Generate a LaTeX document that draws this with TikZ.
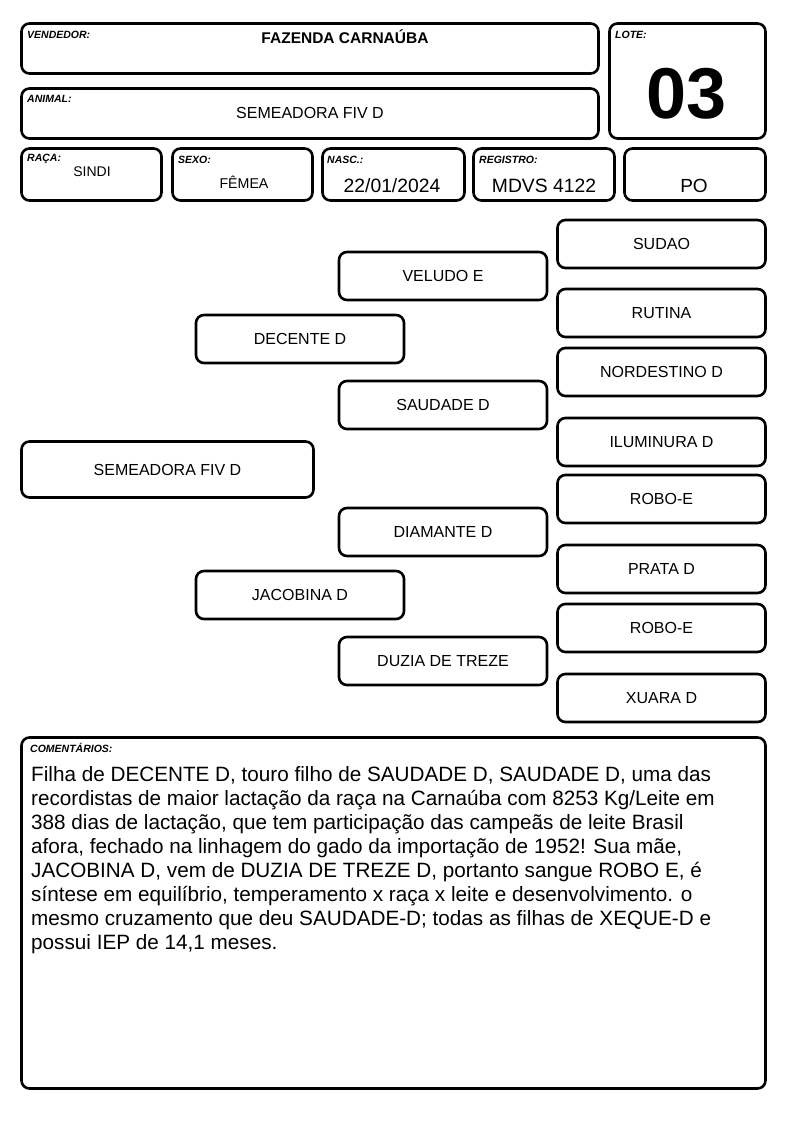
\documentclass[tikz,border=0pt]{standalone}
\usepackage{fontspec}
\setmainfont{Liberation Sans}
\begin{document}
\begin{tikzpicture}[x=1pt,y=-1pt,
  box/.style={draw=black, line width=2.6pt, rounded corners=8pt, fill=white, inner sep=0pt},
  lbl/.style={anchor=base west, inner sep=0pt, font=\fontsize{10.5}{12}\selectfont\bfseries\itshape},
  val/.style={anchor=base, inner sep=0pt},
  ped/.style={box, minimum width=208pt, minimum height=48pt, font=\fontsize{16}{18}\selectfont}
]
\useasboundingbox (0,0) rectangle (794,1123);
\fill[white] (0,0) rectangle (794,1123);

% header boxes
\node[box, minimum width=577pt, minimum height=50pt] (vend) at (310,48.5) {};
\node[box, minimum width=577pt, minimum height=50pt] (anim) at (310,113.5) {};
\node[box, minimum width=156pt, minimum height=115pt] (lote) at (687.5,81) {};
\node[box, minimum width=140pt, minimum height=52pt] (raca) at (91.5,174.5) {};
\node[box, minimum width=140pt, minimum height=52pt] (sexo) at (242.5,174.5) {};
\node[box, minimum width=142pt, minimum height=52pt] (nasc) at (393.5,174.5) {};
\node[box, minimum width=141pt, minimum height=52pt] (regi) at (544,174.5) {};
\node[box, minimum width=141pt, minimum height=52pt] (po) at (695,174.5) {};

\node[lbl] (lvend) at (27,39) {VENDEDOR:};
\node[lbl] (lanim) at (27,103) {ANIMAL:};
\node[lbl] (llote) at (615,39) {LOTE:};
\node[lbl] (lraca) at (27,162) {RAÇA:};
\node[lbl] (lsexo) at (178,164) {SEXO:};
\node[lbl] (lnasc) at (327,164) {NASC.:};
\node[lbl] (lregi) at (479,164) {REGISTRO:};

\node[val, font=\fontsize{15.5}{18}\selectfont\bfseries] (tvend) at (345,43.5) {FAZENDA CARNAÚBA};
\node[val, font=\fontsize{16}{18}\selectfont] (tanim) at (310,119) {SEMEADORA FIV D};
\node[val, font=\fontsize{72}{80}\selectfont\bfseries] (tlote) at (687,119) {03};
\node[val, font=\fontsize{14}{16}\selectfont] (traca) at (92,177) {SINDI};
\node[val, font=\fontsize{14.2}{16}\selectfont] (tsexo) at (244,189) {FÊMEA};
\node[val, font=\fontsize{19.3}{22}\selectfont] (tnasc) at (392,193) {22/01/2024};
\node[val, font=\fontsize{19.3}{22}\selectfont] (tregi) at (544,193) {MDVS 4122};
\node[val, font=\fontsize{19}{22}\selectfont] (tpo) at (694,193) {PO};

% pedigree
\node[box, minimum width=292pt, minimum height=56pt, font=\fontsize{16}{18}\selectfont] (animal) at (167.5,469.5) {SEMEADORA FIV D};
\node[ped] (pai) at (300,339) {DECENTE D};
\node[ped] (mae) at (300,595) {JACOBINA D};
\node[ped] (avp) at (443,276) {VELUDO E};
\node[ped] (avmp) at (443,405) {SAUDADE D};
\node[ped] (avm) at (443,532) {DIAMANTE D};
\node[ped] (avmm) at (443,661) {DUZIA DE TREZE};
\node[ped] (b1) at (661.5,244) {SUDAO};
\node[ped] (b2) at (661.5,313) {RUTINA};
\node[ped] (b3) at (661.5,372) {NORDESTINO D};
\node[ped] (b4) at (661.5,442) {ILUMINURA D};
\node[ped] (b5) at (661.5,499) {ROBO-E};
\node[ped] (b6) at (661.5,569) {PRATA D};
\node[ped] (b7) at (661.5,628) {ROBO-E};
\node[ped] (b8) at (661.5,698) {XUARA D};

% comments
\node[box, minimum width=744pt, minimum height=351pt] (coment) at (393.5,913) {};
\node[lbl] (lcom) at (30,752) {COMENTÁRIOS:};
\node[anchor=base west, inner sep=0pt, align=left, font=\fontsize{20.7}{24.1}\selectfont] (tcom) at (31,949.7) {Filha de DECENTE D, touro filho de SAUDADE D, SAUDADE D, uma das\\
recordistas de maior lactação da raça na Carnaúba com 8253 Kg/Leite em\\
388 dias de lactação, que tem participação das campeãs de leite Brasil\\
afora, fechado na linhagem do gado da importação de 1952! Sua mãe,\\
JACOBINA D, vem de DUZIA DE TREZE D, portanto sangue ROBO E, é\\
síntese em equilíbrio, temperamento x raça x leite e desenvolvimento. o\\
mesmo cruzamento que deu SAUDADE-D; todas as filhas de XEQUE-D e\\
possui IEP de 14,1 meses.};
\end{tikzpicture}
\end{document}
